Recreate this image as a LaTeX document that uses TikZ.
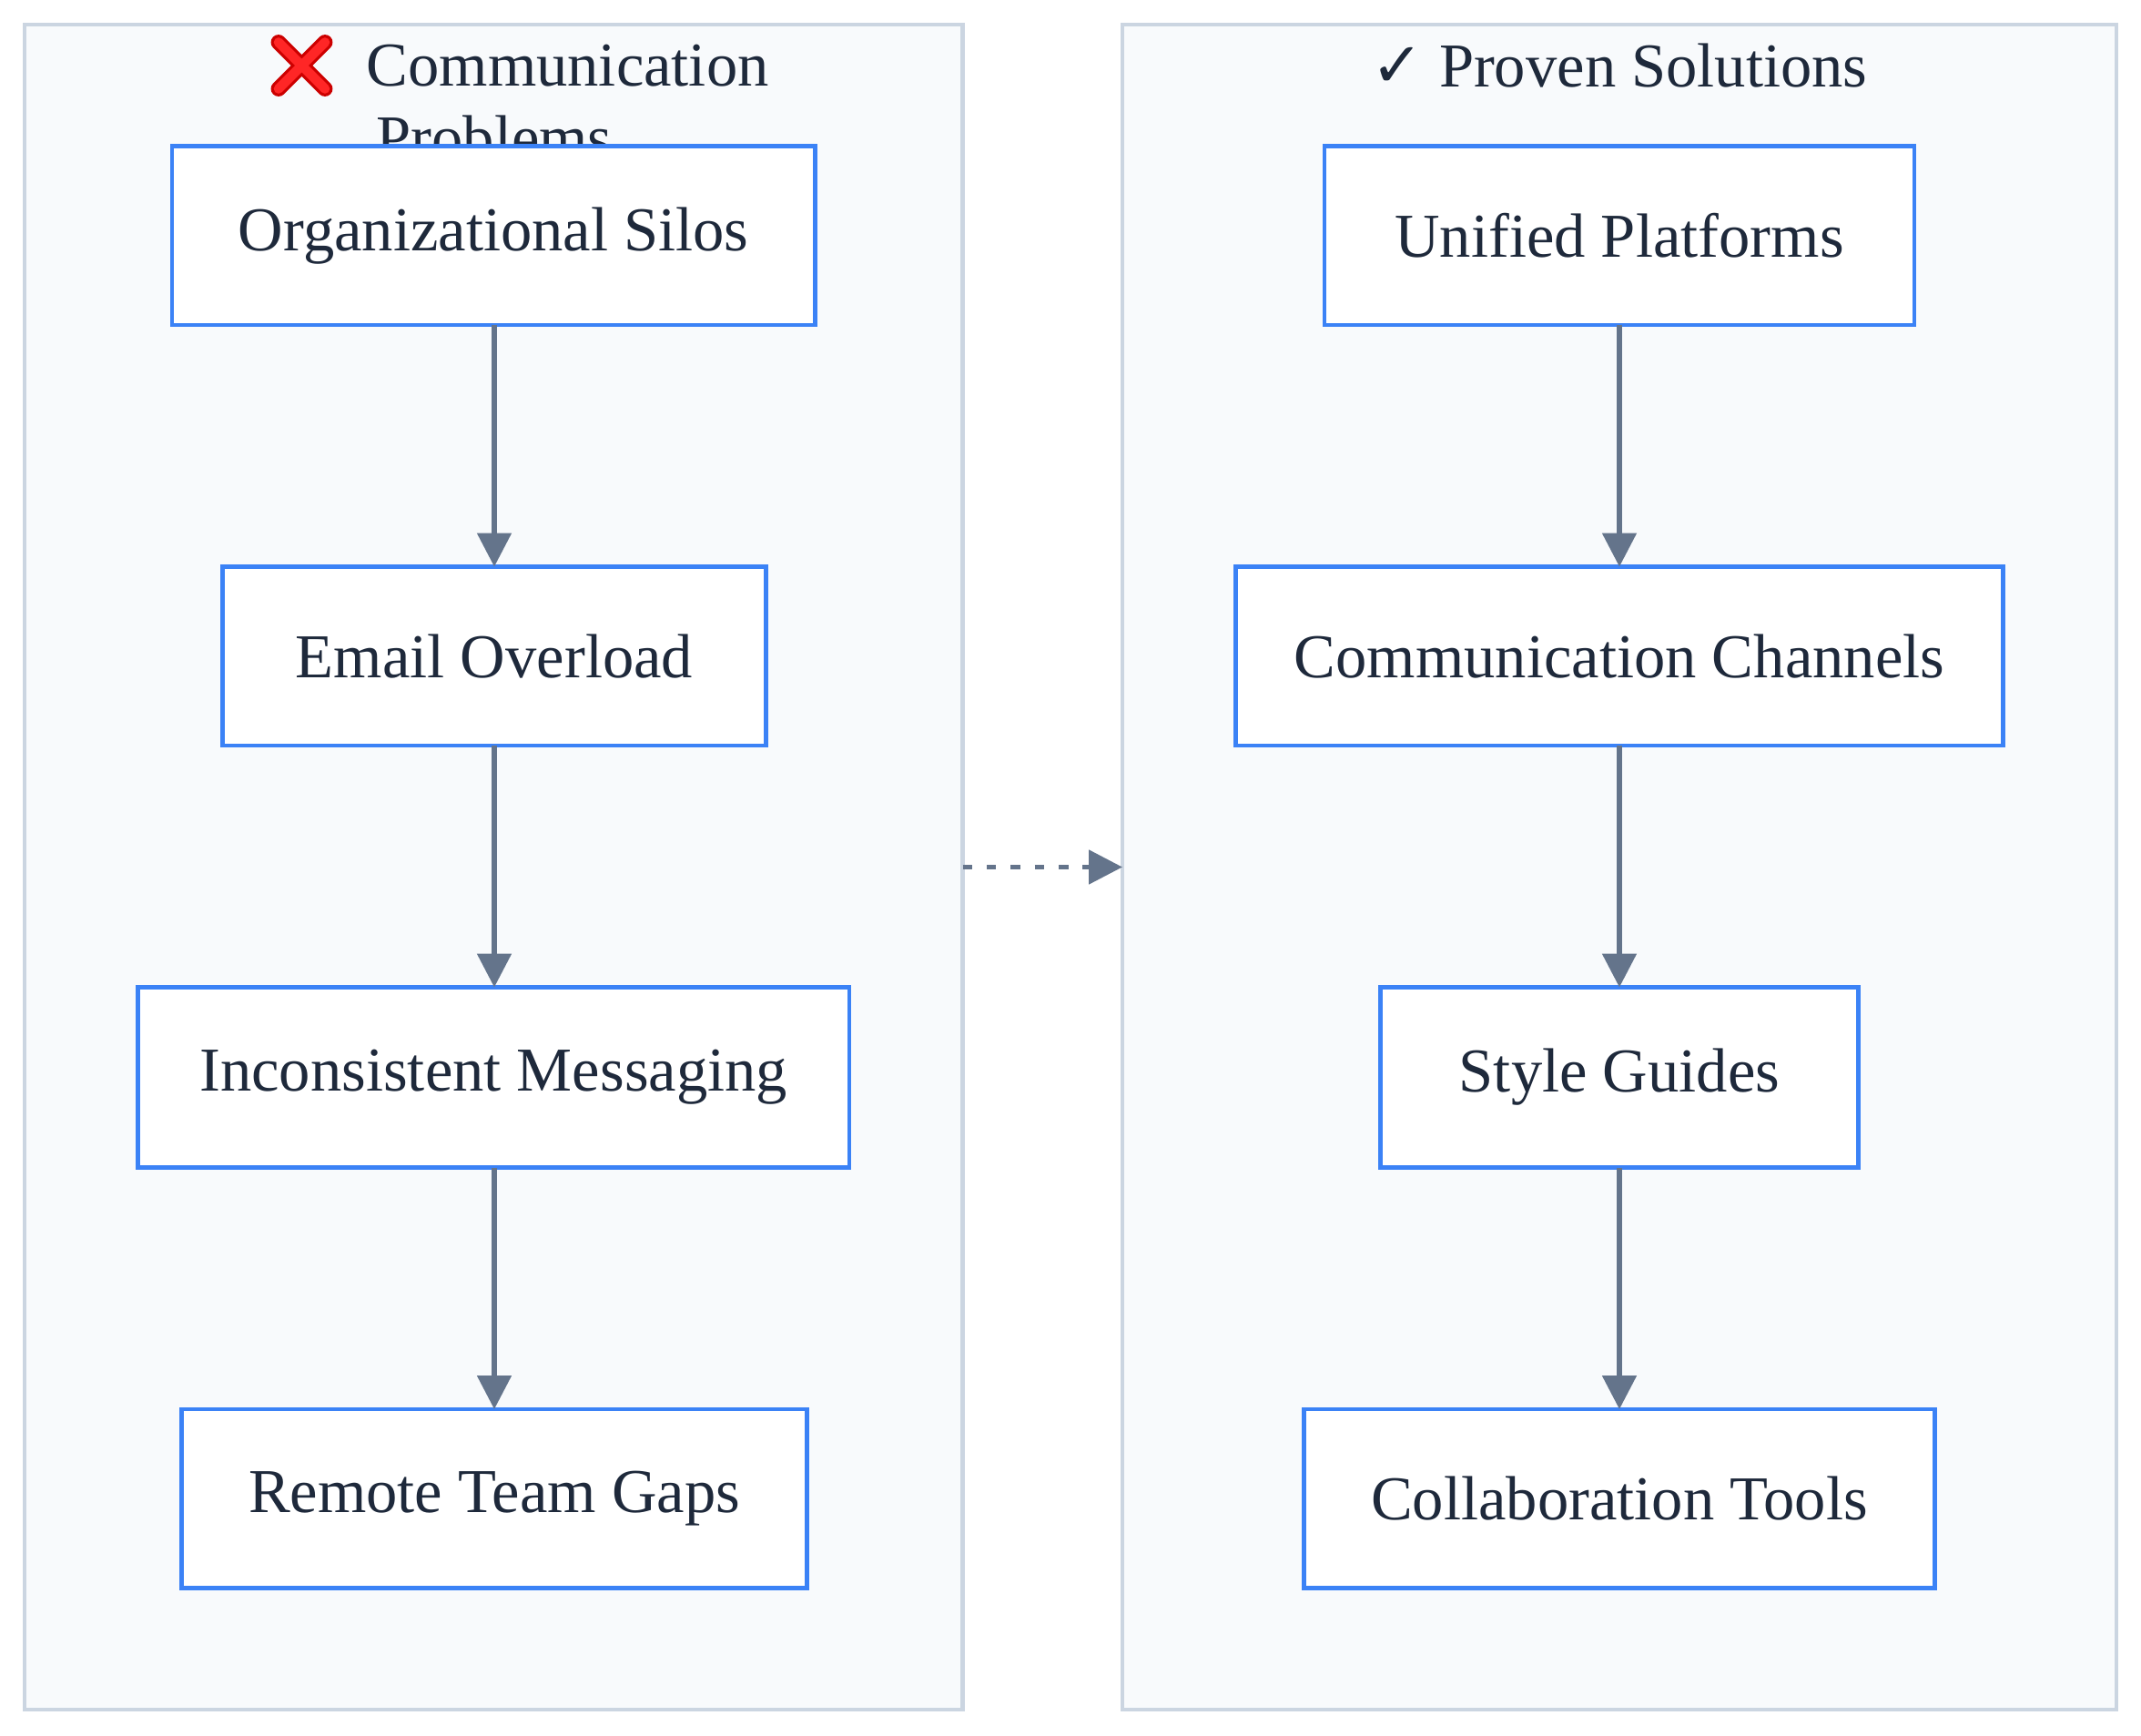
\documentclass[tikz,border=0pt]{standalone}
\usepackage{fontspec}
\setmainfont{Liberation Serif}
\newfontfamily\symfont{DejaVu Sans}
\usetikzlibrary{arrows.meta}
\definecolor{clfill}{HTML}{F8FAFC}
\definecolor{cldraw}{HTML}{CBD5E1}
\definecolor{boxdraw}{HTML}{3B82F6}
\definecolor{arr}{HTML}{64748B}
\definecolor{txt}{HTML}{1E293B}
\begin{document}
\begin{tikzpicture}[x=0.01cm,y=-0.01cm,
  cluster/.style={draw=cldraw,fill=clfill,line width=0.8pt},
  box/.style={draw=boxdraw,fill=white,line width=0.9pt,text=txt,font=\fontsize{13}{15}\selectfont},
  flow/.style={draw=arr,line width=1pt,-{Triangle[length=7pt,width=7pt]}},
  ttl/.style={text=txt,font=\fontsize{13}{15}\selectfont}]
\useasboundingbox (0,0) rectangle (1568,1270.7);
\fill[white] (0,0) rectangle (1568,1270.7);
\draw[cluster] (18,18) rectangle (705,1252);
\draw[cluster] (822,18) rectangle (1550,1252);
\coordinate (lr) at (705,635);
\coordinate (rl) at (822,635);
% titles
\node[ttl,anchor=west] (t1) at (256,48) {Communication};
\node[ttl] (t1b) at (362,101) {Problems};
\begin{scope}[shift={(221,48)}]
\draw[red!80!black,line width=3.2pt,line cap=round,fill=none] (-17,-17) -- (17,17) (17,-17) -- (-17,17);
\draw[red!85,line width=2pt,line cap=round] (-17,-17) -- (17,17) (17,-17) -- (-17,17);
\end{scope}
\node[ttl] (t2) at (1186,48) {{\symfont ✓} Proven Solutions};
% boxes
\path[box] (126,107) rectangle (597,238); \node[text=txt,font=\fontsize{13}{15}\selectfont] (a1) at (361.5,172.5) {Organizational Silos};
\path[box] (163,415) rectangle (561,546); \node[text=txt,font=\fontsize{13}{15}\selectfont] (a2) at (362,480.5) {Email Overload};
\path[box] (101,723) rectangle (622,855); \node[text=txt,font=\fontsize{13}{15}\selectfont] (a3) at (361.5,789) {Inconsistent Messaging};
\path[box] (133,1032) rectangle (591,1163); \node[text=txt,font=\fontsize{13}{15}\selectfont] (a4) at (362,1097.5) {Remote Team Gaps};
\path[box] (970,107) rectangle (1402,238); \node[text=txt,font=\fontsize{13}{15}\selectfont] (b1) at (1186,172.5) {Unified Platforms};
\path[box] (905,415) rectangle (1467,546); \node[text=txt,font=\fontsize{13}{15}\selectfont] (b2) at (1186,480.5) {Communication Channels};
\path[box] (1011,723) rectangle (1361,855); \node[text=txt,font=\fontsize{13}{15}\selectfont] (b3) at (1186,789) {Style Guides};
\path[box] (955,1032) rectangle (1417,1163); \node[text=txt,font=\fontsize{13}{15}\selectfont] (b4) at (1186,1097.5) {Collaboration Tools};
% edges
\draw[flow] (362,238) -- (362,415);
\draw[flow] (362,546) -- (362,723);
\draw[flow] (362,855) -- (362,1032);
\draw[flow] (1186,238) -- (1186,415);
\draw[flow] (1186,546) -- (1186,723);
\draw[flow] (1186,855) -- (1186,1032);
\draw[flow,dash pattern=on 2pt off 3pt] (lr) -- (rl);
\end{tikzpicture}
\end{document}
